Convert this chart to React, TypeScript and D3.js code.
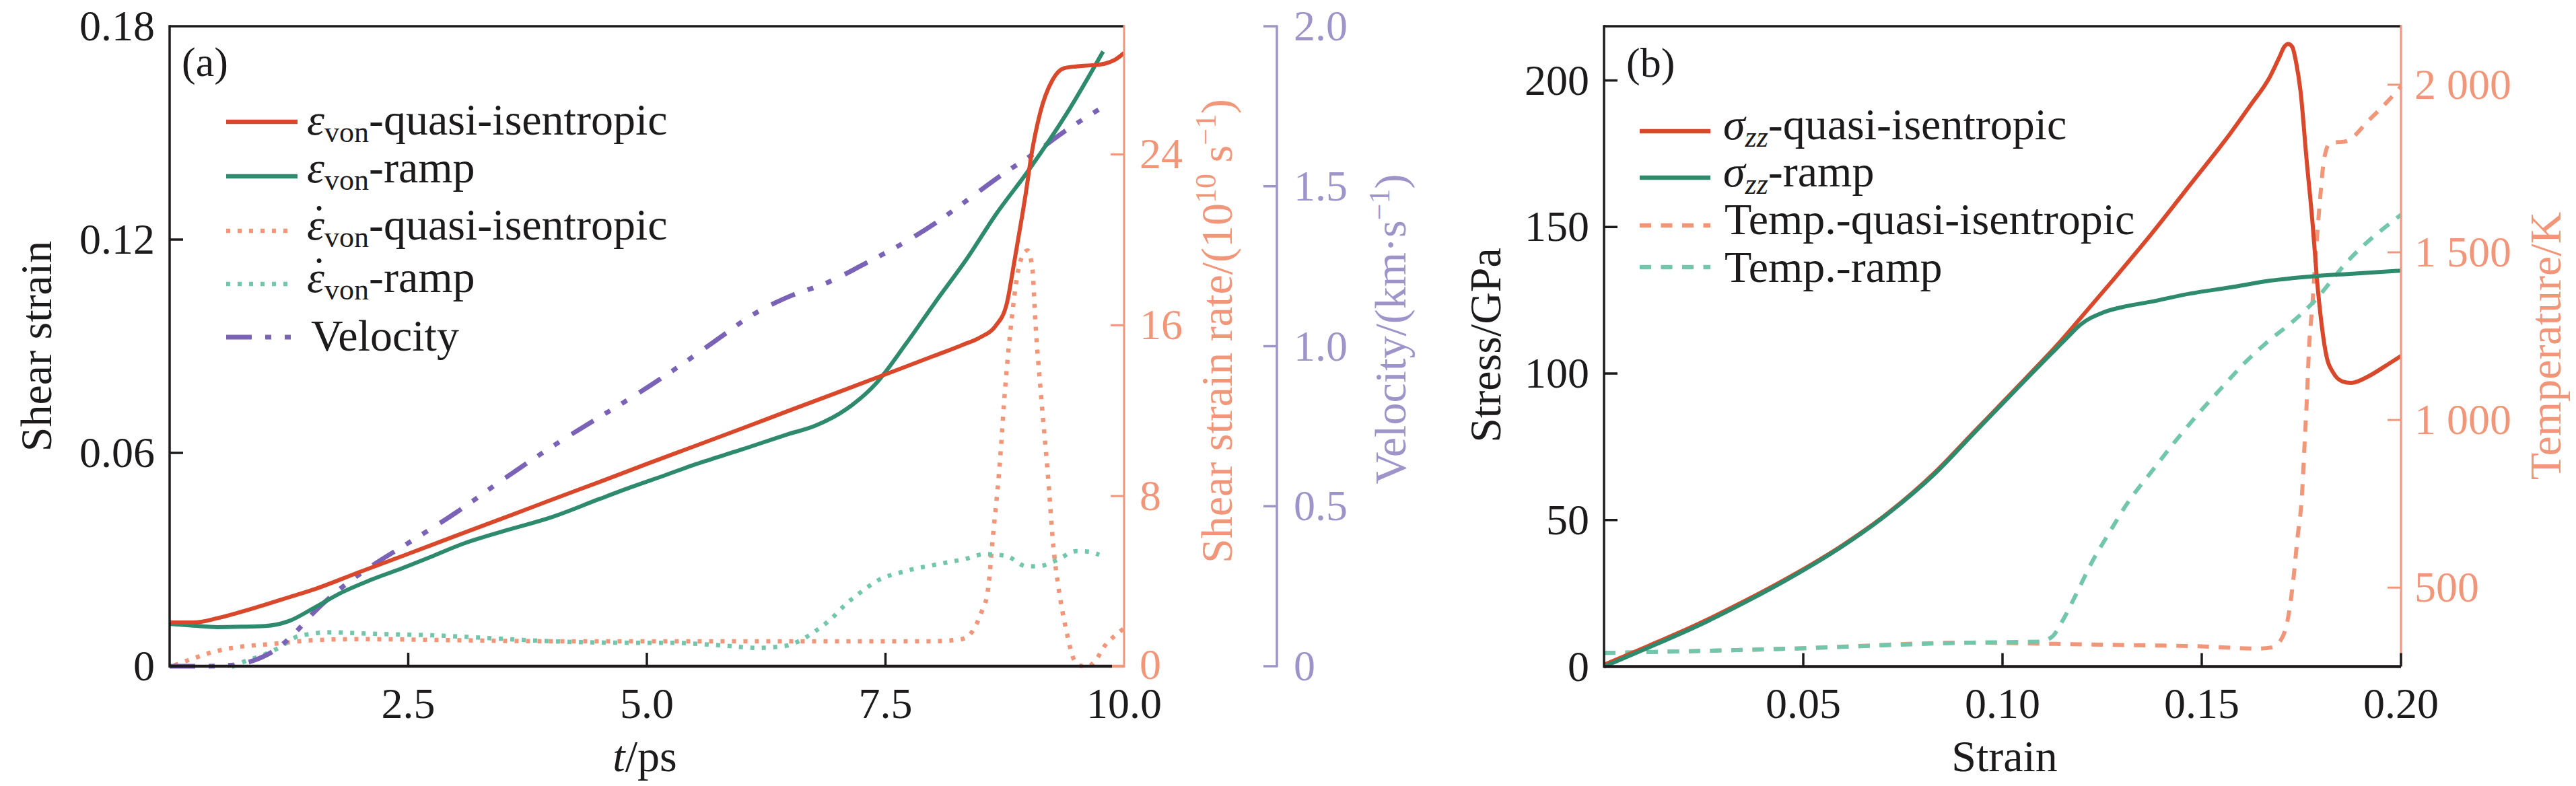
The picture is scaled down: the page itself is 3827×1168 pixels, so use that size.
import React from "react";
import * as d3 from "d3";

// ---------- Panel (a) data ----------
const tStrainQ = [0, 0.25, 0.5, 0.75, 1.0, 1.25, 1.5, 2.0, 2.5, 3.0, 3.5, 4.0, 4.5, 5.0, 5.5, 6.0, 6.5, 7.0, 7.5, 8.0, 8.3, 8.5, 8.65, 8.77, 8.85, 8.93, 8.97, 9.03, 9.12, 9.25, 9.37, 9.5, 9.65, 9.8, 9.9, 10.0];
const strainQ = [0.0123, 0.0123, 0.0135, 0.0153, 0.0173, 0.0194, 0.0215, 0.0266, 0.0316, 0.0367, 0.0417, 0.0468, 0.0518, 0.0569, 0.0619, 0.0669, 0.072, 0.077, 0.0821, 0.0872, 0.0903, 0.0926, 0.0956, 0.1019, 0.1138, 0.1264, 0.133, 0.144, 0.1556, 0.1649, 0.1682, 0.1687, 0.169, 0.1695, 0.1705, 0.1725];

const tStrainR = [0, 0.25, 0.5, 0.75, 1.0, 1.25, 1.5, 1.8, 2.1, 2.43, 2.75, 3.06, 3.5, 4.0, 4.5, 4.85, 5.2, 5.51, 6.0, 6.46, 6.77, 7.09, 7.4, 7.72, 8.03, 8.35, 8.66, 9.0, 9.4, 9.78];
const strainR = [0.0119, 0.0114, 0.011, 0.0111, 0.0113, 0.0127, 0.0162, 0.0207, 0.0242, 0.0275, 0.0309, 0.0343, 0.038, 0.0419, 0.047, 0.0505, 0.0538, 0.0568, 0.061, 0.0651, 0.0677, 0.0723, 0.0795, 0.0909, 0.1027, 0.1145, 0.1272, 0.1395, 0.1555, 0.1729];

const tRateQ = [0.05, 0.25, 0.5, 0.75, 1.0, 1.25, 1.5, 2.0, 3.0, 4.0, 5.0, 6.0, 7.0, 8.0, 8.3, 8.4, 8.5, 8.57, 8.63, 8.69, 8.76, 8.82, 8.88, 8.94, 8.99, 9.04, 9.07, 9.13, 9.2, 9.26, 9.32, 9.39, 9.48, 9.55, 9.63, 9.7, 9.8, 9.9, 10.0];
const rateQ = [0.07, 0.4, 0.75, 0.95, 1.05, 1.15, 1.25, 1.3, 1.25, 1.2, 1.2, 1.2, 1.2, 1.2, 1.3, 1.6, 2.5, 3.5, 6.3, 9.1, 13.4, 16.2, 18.3, 19.3, 19.5, 18.6, 16.2, 12.7, 9.1, 5.6, 3.5, 1.8, 0.3, 0.05, 0.05, 0.3, 1.0, 1.45, 1.8];

const tRateR = [0.65, 0.8, 0.99, 1.18, 1.33, 1.49, 1.65, 2.12, 2.75, 3.38, 4.0, 4.85, 5.2, 5.83, 6.14, 6.46, 6.62, 6.77, 6.93, 7.09, 7.25, 7.4, 7.72, 8.03, 8.35, 8.54, 8.76, 8.98, 9.1, 9.29, 9.5, 9.62, 9.74];
const rateR = [0.0, 0.28, 0.57, 0.99, 1.41, 1.55, 1.62, 1.55, 1.48, 1.34, 1.2, 1.13, 1.13, 0.99, 0.89, 0.99, 1.27, 1.69, 2.25, 2.96, 3.53, 4.0, 4.5, 4.79, 5.07, 5.28, 5.2, 4.71, 4.71, 4.99, 5.42, 5.4, 5.25];

const tVel = [0, 0.4, 0.7, 0.9, 1.1, 1.3, 1.5, 1.8, 2.1, 2.5, 3.0, 3.5, 4.0, 4.5, 4.76, 5.04, 5.39, 5.77, 6.08, 6.52, 6.87, 7.31, 7.72, 8.03, 8.34, 8.71, 9.03, 9.41, 9.77];
const velocity = [0, 0, 0.005, 0.02, 0.05, 0.1, 0.165, 0.245, 0.31, 0.385, 0.48, 0.585, 0.685, 0.778, 0.825, 0.878, 0.948, 1.028, 1.093, 1.159, 1.196, 1.262, 1.328, 1.386, 1.453, 1.534, 1.597, 1.678, 1.746];

const timeTicks = [2.5, 5.0, 7.5, 10.0];
const timeTickLabels = ["2.5", "5.0", "7.5", "10.0"];
const shearTicks = [0, 0.06, 0.12, 0.18];
const shearTickLabels = ["0", "0.06", "0.12", "0.18"];
const rateTicks = [0, 8, 16, 24];
const rateTickLabels = ["0", "8", "16", "24"];
const velTicks = [0, 0.5, 1.0, 1.5, 2.0];
const velTickLabels = ["0", "0.5", "1.0", "1.5", "2.0"];

// ---------- Panel (b) data ----------
const eStressQ = [0, 0.0114, 0.0237, 0.0355, 0.0474, 0.0593, 0.0711, 0.083, 0.093, 0.1017, 0.1076, 0.1135, 0.1195, 0.1273, 0.1373, 0.1472, 0.1572, 0.1622, 0.1672, 0.1695, 0.1707, 0.1717, 0.1727, 0.1737, 0.1748, 0.1763, 0.1778, 0.1789, 0.1799, 0.1814, 0.1829, 0.1853, 0.1875, 0.1919, 0.196, 0.2];
const stressQ = [0.6, 7.2, 14.6, 22.5, 31.2, 40.9, 52.2, 66.2, 80.3, 92.5, 100.9, 109.4, 118.8, 131.2, 147.5, 164.6, 182.0, 191.5, 201.5, 208.0, 211.5, 212.5, 211.5, 206.0, 196.2, 173.1, 151.4, 132.4, 118.8, 105.3, 100.5, 97.3, 96.8, 99.1, 102.5, 106];

const eStressR = [0, 0.0114, 0.0237, 0.0355, 0.0474, 0.0593, 0.0711, 0.083, 0.093, 0.1017, 0.1076, 0.1135, 0.1165, 0.1195, 0.1254, 0.1312, 0.1373, 0.1472, 0.1572, 0.1672, 0.1772, 0.1872, 0.2];
const stressR = [0, 6.6, 14.0, 22.0, 30.8, 40.6, 52.0, 65.8, 79.9, 92.1, 100.4, 108.5, 112.6, 116.6, 120.9, 123.0, 124.5, 127.3, 129.4, 131.7, 133.1, 134.0, 135.1];

const eTempQ = [0, 0.0469, 0.0924, 0.1135, 0.1313, 0.1491, 0.1639, 0.1675, 0.1698, 0.1716, 0.1728, 0.174, 0.1752, 0.1758, 0.1764, 0.1769, 0.1778, 0.1782, 0.1797, 0.1807, 0.1822, 0.1861, 0.1922, 0.1971, 0.2];
const tempQ = [305, 318, 336, 332, 328.5, 325, 318, 321.5, 342.6, 406, 504.5, 645, 786, 927, 1068, 1209, 1349, 1422, 1659, 1778, 1826, 1831, 1897, 1956, 1995];

const eTempR = [0, 0.0469, 0.0924, 0.1094, 0.1124, 0.1153, 0.1183, 0.1224, 0.1266, 0.1313, 0.1372, 0.1432, 0.1491, 0.155, 0.161, 0.1669, 0.1728, 0.1775, 0.1872, 0.2];
const tempR = [305, 318, 336, 339, 353, 406, 476, 575, 660, 751, 843, 934, 1018, 1096, 1173, 1237, 1293, 1345, 1481, 1612];

const strainXTicks = [0.05, 0.1, 0.15, 0.2];
const strainXTickLabels = ["0.05", "0.10", "0.15", "0.20"];
const stressTicks = [0, 50, 100, 150, 200];
const stressTickLabels = ["0", "50", "100", "150", "200"];
const tempTicks = [500, 1000, 1500, 2000];
const tempTickLabels = ["500", "1 000", "1 500", "2 000"];

// ---------- styles ----------
const C_RED = "#D9482B";
const C_GREEN = "#2E8A6C";
const C_SALMON = "#F29679";
const C_TEAL = "#72C6AC";
const C_PURPLE = "#7A63B7";
const C_VAXIS = "#9E94C9";
const C_BLACK = "#1c1a1a";
const FONT = "'Liberation Serif', 'Times New Roman', Times, serif";
const TICK_FS = 64;
const TITLE_FS = 66;
const LEG_FS = 66;
const SUB_FS = 44;

const DOT = "6,11";
const DASH = "17,14.5";
const DASHDOT = "38,20,9,20,9,22";

function pts(xs: number[], ys: number[]): [number, number][] {
  return xs.map((x, i) => [x, ys[i]] as [number, number]);
}

export default function App() {
  const xA = d3.scaleLinear().domain([0, 10]).range([252, 1670]);
  const yShear = d3.scaleLinear().domain([0, 0.18]).range([990, 39]);
  const yRate = d3.scaleLinear().domain([0, 30]).range([991, 39]);
  const yVel = d3.scaleLinear().domain([0, 2]).range([990, 39]);

  const xB = d3.scaleLinear().domain([0, 0.2]).range([2383, 3567]);
  const yStress = d3.scaleLinear().domain([0, 218.5]).range([990.5, 39]);
  const yTemp = d3.scaleLinear().domain([264.5, 2174.4]).range([990.5, 39]);

  const mk = (sx: d3.ScaleLinear<number, number>, sy: d3.ScaleLinear<number, number>) =>
    d3
      .line<[number, number]>()
      .x((d) => sx(d[0]))
      .y((d) => sy(d[1]))
      .curve(d3.curveMonotoneX);

  const lShear = mk(xA, yShear);
  const lRate = mk(xA, yRate);
  const lVel = mk(xA, yVel);
  const lStress = mk(xB, yStress);
  const lTemp = mk(xB, yTemp);

  const axW = 3.5;
  const tickLen = 20;

  const aTop = 39, aBot = 990, aL = 252, aR = 1670, vAx = 1897;
  const bTop = 39, bBot = 990.5, bL = 2383, bR = 3567;

  const legA = [
    { color: C_RED, dash: undefined, w: 6.5, x2: 442, ly: 181, ty: 200, kind: "eps", suffix: "-quasi-isentropic", dot: false },
    { color: C_GREEN, dash: undefined, w: 6.5, x2: 442, ly: 262, ty: 271, kind: "eps", suffix: "-ramp", dot: false },
    { color: C_SALMON, dash: DOT, w: 6.5, x2: 432, ly: 343, ty: 356, kind: "eps", suffix: "-quasi-isentropic", dot: true },
    { color: C_TEAL, dash: DOT, w: 6.5, x2: 432, ly: 422, ty: 434, kind: "eps", suffix: "-ramp", dot: true },
    { color: C_PURPLE, dash: DASHDOT, w: 7, x2: 442, ly: 501, ty: 521, kind: "plain", suffix: "Velocity", dot: false },
  ];

  const legB = [
    { color: C_RED, dash: undefined, x2: 2541, ly: 195, ty: 207, kind: "sigma", suffix: "-quasi-isentropic" },
    { color: C_GREEN, dash: undefined, x2: 2541, ly: 264, ty: 277, kind: "sigma", suffix: "-ramp" },
    { color: C_SALMON, dash: DASH, x2: 2541, ly: 335, ty: 348, kind: "plain", suffix: "Temp.-quasi-isentropic" },
    { color: C_TEAL, dash: DASH, x2: 2541, ly: 397, ty: 419, kind: "plain", suffix: "Temp.-ramp" },
  ];

  return (
    <svg
      width={3827}
      height={1168}
      viewBox="0 0 3827 1168"
      style={{ position: "absolute", left: 0, top: 0, display: "block", background: "#fff" }}
      fontFamily={FONT}
    >
      <rect x={0} y={0} width={3827} height={1168} fill="#fff" />

      {/* ================= Panel (a) ================= */}
      <path d={lRate(pts(tRateQ, rateQ)) || ""} fill="none" stroke={C_SALMON} strokeWidth={6.5} strokeDasharray={DOT} />
      <path d={lRate(pts(tRateR, rateR)) || ""} fill="none" stroke={C_TEAL} strokeWidth={6.5} strokeDasharray={DOT} />
      <path d={lVel(pts(tVel, velocity)) || ""} fill="none" stroke={C_PURPLE} strokeWidth={7} strokeDasharray={DASHDOT} />
      <path d={lShear(pts(tStrainR, strainR)) || ""} fill="none" stroke={C_GREEN} strokeWidth={6} strokeLinejoin="round" />
      <path d={lShear(pts(tStrainQ, strainQ)) || ""} fill="none" stroke={C_RED} strokeWidth={6} strokeLinejoin="round" />

      <line x1={aL} y1={aTop} x2={aR} y2={aTop} stroke={C_BLACK} strokeWidth={axW} />
      <line x1={aL} y1={aTop - 1.75} x2={aL} y2={aBot + 2} stroke={C_BLACK} strokeWidth={axW} />
      <line x1={aL} y1={aBot} x2={aR - 18} y2={aBot} stroke={C_BLACK} strokeWidth={4.5} />
      <line x1={aR - 18} y1={aBot} x2={aR} y2={aBot} stroke={C_SALMON} strokeWidth={4.5} />
      <line x1={aR} y1={aTop - 1.75} x2={aR} y2={aBot + 2} stroke={C_SALMON} strokeWidth={3} />
      <line x1={vAx} y1={aTop - 1.5} x2={vAx} y2={aBot + 1.5} stroke={C_VAXIS} strokeWidth={3.5} />

      {timeTicks.map((t, i) => (
        <g key={"ta" + i}>
          {t < 10 && <line x1={xA(t)} x2={xA(t)} y1={aBot} y2={aBot - tickLen} stroke={C_BLACK} strokeWidth={axW} />}
          <text x={xA(t)} y={1067} textAnchor="middle" fontSize={TICK_FS} fill={C_BLACK}>
            {timeTickLabels[i]}
          </text>
        </g>
      ))}
      {shearTicks.map((s, i) => (
        <g key={"sa" + i}>
          {s > 0 && s < 0.18 && <line x1={aL} x2={aL + tickLen} y1={yShear(s)} y2={yShear(s)} stroke={C_BLACK} strokeWidth={axW} />}
          <text x={aL - 22} y={yShear(s) + 21} textAnchor="end" fontSize={TICK_FS} fill={C_BLACK}>
            {shearTickLabels[i]}
          </text>
        </g>
      ))}
      {rateTicks.map((r, i) => (
        <g key={"ra" + i}>
          {r > 0 && <line x1={aR} x2={aR - tickLen} y1={yRate(r)} y2={yRate(r)} stroke={C_SALMON} strokeWidth={3} />}
          <text x={aR + 23} y={yRate(r) + (r === 0 ? 18 : 21)} textAnchor="start" fontSize={TICK_FS} fill={C_SALMON}>
            {rateTickLabels[i]}
          </text>
        </g>
      ))}
      {velTicks.map((v, i) => (
        <g key={"va" + i}>
          <line x1={vAx} x2={vAx - tickLen} y1={yVel(v)} y2={yVel(v)} stroke={C_VAXIS} strokeWidth={3.5} />
          <text x={vAx + 25} y={yVel(v) + 21} textAnchor="start" fontSize={TICK_FS} fill={C_VAXIS}>
            {velTickLabels[i]}
          </text>
        </g>
      ))}

      <text x={(aL + aR) / 2 - 3} y={1146} textAnchor="middle" fontSize={TITLE_FS} fill={C_BLACK}>
        <tspan fontStyle="italic">t</tspan>/ps
      </text>
      <text transform={`translate(76,${(aTop + aBot) / 2}) rotate(-90)`} textAnchor="middle" fontSize={TITLE_FS} fill={C_BLACK}>
        Shear strain
      </text>
      <text transform={`translate(1830,492) rotate(-90)`} textAnchor="middle" fontSize={TITLE_FS} fill={C_SALMON}>
        Shear strain rate/(10
        <tspan fontSize={SUB_FS} dy={-24}>10</tspan>
        <tspan dy={24}> s</tspan>
        <tspan fontSize={SUB_FS} dy={-24}>−1</tspan>
        <tspan dy={24}>)</tspan>
      </text>
      <text transform={`translate(2088,489) rotate(-90)`} textAnchor="middle" fontSize={TITLE_FS} fill={C_VAXIS}>
        Velocity/(km·s
        <tspan fontSize={SUB_FS} dy={-24}>−1</tspan>
        <tspan dy={24}>)</tspan>
      </text>

      <text x={270} y={113} fontSize={62} fill={C_BLACK}>(a)</text>

      {legA.map((e, i) => (
        <g key={"la" + i}>
          <line x1={336} x2={e.x2} y1={e.ly} y2={e.ly} stroke={e.color} strokeWidth={e.w} strokeDasharray={e.dash} />
          {e.kind === "eps" ? (
            <>
              <text x={456} y={e.ty} fontSize={LEG_FS} fill={C_BLACK}>
                <tspan fontStyle="italic">ε</tspan>
                <tspan fontSize={SUB_FS} dy={11}>von</tspan>
                <tspan dy={-11}>{e.suffix}</tspan>
              </text>
              {e.dot && (
                <text x={474} y={e.ty - 6} textAnchor="middle" fontSize={LEG_FS} fill={C_BLACK}>
                  ˙
                </text>
              )}
            </>
          ) : (
            <text x={462} y={e.ty} fontSize={LEG_FS} fill={C_BLACK}>
              {e.suffix}
            </text>
          )}
        </g>
      ))}

      {/* ================= Panel (b) ================= */}
      <path d={lTemp(pts(eTempQ, tempQ)) || ""} fill="none" stroke={C_SALMON} strokeWidth={6} strokeDasharray={DASH} />
      <path d={lTemp(pts(eTempR, tempR)) || ""} fill="none" stroke={C_TEAL} strokeWidth={6} strokeDasharray={DASH} />
      <path d={lStress(pts(eStressQ, stressQ)) || ""} fill="none" stroke={C_RED} strokeWidth={6} strokeLinejoin="round" />
      <path d={lStress(pts(eStressR, stressR)) || ""} fill="none" stroke={C_GREEN} strokeWidth={6} strokeLinejoin="round" />

      <line x1={bL} y1={bTop} x2={bR} y2={bTop} stroke={C_BLACK} strokeWidth={axW} />
      <line x1={bL} y1={bTop - 1.75} x2={bL} y2={bBot + 2} stroke={C_BLACK} strokeWidth={axW} />
      <line x1={bL} y1={bBot} x2={bR} y2={bBot} stroke={C_BLACK} strokeWidth={4.5} />
      <line x1={bR} y1={bTop - 1.75} x2={bR} y2={bBot - 2} stroke={C_SALMON} strokeWidth={3} />

      {strainXTicks.map((e, i) => (
        <g key={"tb" + i}>
          <line x1={xB(e)} x2={xB(e)} y1={bBot} y2={bBot - tickLen} stroke={C_BLACK} strokeWidth={axW} />
          <text x={xB(e)} y={1067} textAnchor="middle" fontSize={TICK_FS} fill={C_BLACK}>
            {strainXTickLabels[i]}
          </text>
        </g>
      ))}
      {stressTicks.map((s, i) => (
        <g key={"sb" + i}>
          {s > 0 && <line x1={bL} x2={bL + tickLen} y1={yStress(s)} y2={yStress(s)} stroke={C_BLACK} strokeWidth={axW} />}
          <text x={bL - 22} y={yStress(s) + 21} textAnchor="end" fontSize={TICK_FS} fill={C_BLACK}>
            {stressTickLabels[i]}
          </text>
        </g>
      ))}
      {tempTicks.map((T, i) => (
        <g key={"Tb" + i}>
          <line x1={bR} x2={bR - tickLen} y1={yTemp(T)} y2={yTemp(T)} stroke={C_SALMON} strokeWidth={3} />
          <text x={bR + 20} y={yTemp(T) + 21} textAnchor="start" fontSize={TICK_FS} fill={C_SALMON}>
            {tempTickLabels[i]}
          </text>
        </g>
      ))}

      <text x={2978} y={1146} textAnchor="middle" fontSize={TITLE_FS} fill={C_BLACK}>
        Strain
      </text>
      <text transform={`translate(2229,513) rotate(-90)`} textAnchor="middle" fontSize={TITLE_FS} fill={C_BLACK}>
        Stress/GPa
      </text>
      <text transform={`translate(3804,514) rotate(-90)`} textAnchor="middle" fontSize={TITLE_FS} fill={C_SALMON}>
        Temperature/K
      </text>

      <text x={2416} y={114} fontSize={62} fill={C_BLACK}>(b)</text>

      {legB.map((e, i) => (
        <g key={"lb" + i}>
          <line x1={2436} x2={e.x2} y1={e.ly} y2={e.ly} stroke={e.color} strokeWidth={6.5} strokeDasharray={e.dash} />
          {e.kind === "sigma" ? (
            <text x={2560} y={e.ty} fontSize={LEG_FS} fill={C_BLACK}>
              <tspan fontStyle="italic">σ</tspan>
              <tspan fontSize={SUB_FS} fontStyle="italic" dy={11}>zz</tspan>
              <tspan dy={-11}>{e.suffix}</tspan>
            </text>
          ) : (
            <text x={2562} y={e.ty} fontSize={LEG_FS} fill={C_BLACK}>
              {e.suffix}
            </text>
          )}
        </g>
      ))}
    </svg>
  );
}
